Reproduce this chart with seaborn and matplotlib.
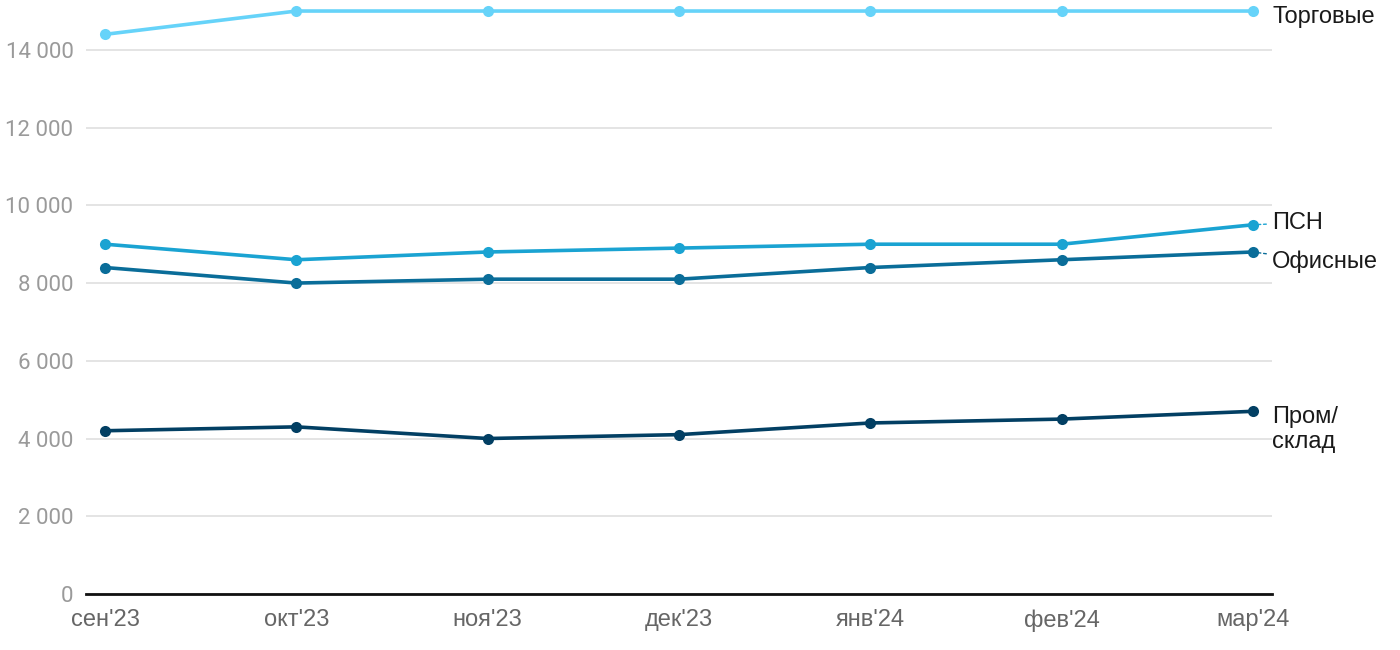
import pandas as pd
import matplotlib.pyplot as plt
import seaborn as sns

months = ["сен'23", "окт'23", "ноя'23", "дек'23", "янв'24", "фев'24", "мар'24"]
torgovye = [14400, 15000, 15000, 15000, 15000, 15000, 15000]
psn = [9000, 8600, 8800, 8900, 9000, 9000, 9500]
ofisnye = [8400, 8000, 8100, 8100, 8400, 8600, 8800]
prom_sklad = [4200, 4300, 4000, 4100, 4400, 4500, 4700]

series = {
    "Торговые": torgovye,
    "ПСН": psn,
    "Офисные": ofisnye,
    "Пром/\nсклад": prom_sklad,
}
colors = {
    "Торговые": "#66d3f9",
    "ПСН": "#1aa3d2",
    "Офисные": "#0a6d99",
    "Пром/\nсклад": "#023f63",
}

df = pd.DataFrame(
    [(i, name, v) for name, vals in series.items() for i, v in enumerate(vals)],
    columns=["x", "series", "value"],
)

sns.set_theme(style="white")
plt.rcParams["font.family"] = ["Liberation Sans", "DejaVu Sans"]

fig = plt.figure(figsize=(14, 6.5), dpi=100)
ax = fig.add_axes([0.0614, 0.0862, 0.8472, 0.9058])

sns.lineplot(data=df, x="x", y="value", hue="series", palette=colors,
             marker="o", markersize=8, markeredgewidth=0, linewidth=2.6,
             legend=False, ax=ax)

ax.set_xlim(-0.1, 6.1)
ax.set_ylim(0, 15150)
yticks = list(range(0, 15000, 2000))
ax.set_yticks(yticks)
ax.set_yticklabels([f"{v:,}".replace(",", " ") for v in yticks],
                   color="#9a9a9a", fontsize=16, family=["Roboto", "DejaVu Sans"])
ax.set_xticks(range(len(months)))
ax.set_xticklabels(months, color="#666666", fontsize=17)
ax.tick_params(axis="x", length=0, pad=11)
ax.tick_params(axis="y", length=0, pad=9)
ax.set_xlabel("")
ax.set_ylabel("")
ax.grid(axis="y", color="#e2e2e2", linewidth=1.3)
ax.set_axisbelow(True)
for side in ["top", "right", "left"]:
    ax.spines[side].set_visible(False)
ax.spines["bottom"].set_color("#111111")
ax.spines["bottom"].set_linewidth(2)

# подписи справа
offsets = {
    "Торговые": (14, -4, False),
    "ПСН": (14, 1.5, True),
    "Офисные": (14, -7, True),
    "Пром/\nсклад": (14, -13, False),
}
last = len(months) - 1
for name, vals in series.items():
    dx, dy, leader = offsets[name]
    arrow = None
    if leader:
        arrow = dict(arrowstyle="-", linestyle=(0, (2, 2)), color=colors[name],
                     lw=1, shrinkA=2, shrinkB=4)
    ax.annotate(name, xy=(last, vals[last]), xytext=(dx, dy),
                textcoords="offset points", ha="left", va="center",
                fontsize=17, color="#1a1a1a", linespacing=1.2,
                arrowprops=arrow, annotation_clip=False)

fig.savefig("out.png", dpi=100)
